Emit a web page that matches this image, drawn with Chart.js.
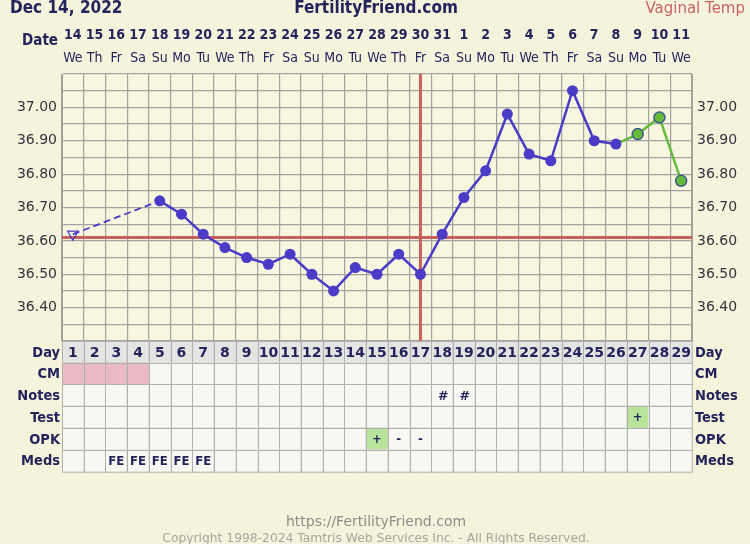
<!DOCTYPE html>
<html>
<head>
<meta charset="utf-8">
<script src="https://cdn.jsdelivr.net/npm/chart.js@4.4.0/dist/chart.umd.min.js"></script>
<style>
  html, body { margin: 0; padding: 0; background: #f6f3dc; }
  #chart { display: block; }
</style>
</head>
<body>
<canvas id="chart" width="750" height="544"></canvas>
<script>
// cycle days and the calendar dates above them
const days = ['1','2','3','4','5','6','7','8','9','10','11','12','13','14','15','16','17','18','19','20','21','22','23','24','25','26','27','28','29'];
const dates = ['14','15','16','17','18','19','20','21','22','23','24','25','26','27','28','29','30','31','1','2','3','4','5','6','7','8','9','10','11'];
const weekdays = ['We','Th','Fr','Sa','Su','Mo','Tu','We','Th','Fr','Sa','Su','Mo','Tu','We','Th','Fr','Sa','Su','Mo','Tu','We','Th','Fr','Sa','Su','Mo','Tu','We'];

// temperatures (null = no reading)
const temps = [36.62, null, null, null, 36.72, 36.68, 36.62, 36.58, 36.55, 36.53, 36.56, 36.50, 36.45, 36.52, 36.50, 36.56, 36.50, 36.62, 36.73, 36.81, 36.98, 36.86, 36.84, 37.05, 36.90, 36.89, 36.92, 36.97, 36.78];
const yTickLabels = ['36.40','36.50','36.60','36.70','36.80','36.90','37.00'];
const coverline = 36.61;
const ovulationDay = '17';
const greenFrom = 26; // index of first green reading

// table rows below the chart
const rowNames = ['Day','CM','Notes','Test','OPK','Meds'];
const cmDays = ['1','2','3','4'];
const notesRow = {'18':'#','19':'#'};
const testRow = {'27':'+'};
const opkRow = {'15':'+','16':'-','17':'-'};
const medsRow = {'3':'FE','4':'FE','5':'FE','6':'FE','7':'FE'};

const NAVY = '#24245c';
const BLUE = '#4a3cc6';
const GREEN = '#66bb3c';
const RED = '#c9615b';
const GRID = '#a2a2a2';
const COND = "'DejaVu Sans Condensed', 'Liberation Sans Narrow', 'DejaVu Sans', sans-serif";

const chartDecor = {
  id: 'chartDecor',
  beforeDraw(chart) {
    const c = chart.ctx, a = chart.chartArea;
    c.save();
    c.fillStyle = '#f6f3dc';
    c.fillRect(0, 0, chart.width, chart.height);
    c.fillStyle = '#f9f6df';
    c.fillRect(a.left, a.top, a.right - a.left, a.bottom - a.top);
    c.restore();
  },
  beforeDatasetsDraw(chart) {
    const c = chart.ctx, a = chart.chartArea;
    const x = chart.scales.x, y = chart.scales.y;
    c.save();
    c.strokeStyle = RED;
    c.lineWidth = 3;
    const cy = y.getPixelForValue(coverline);
    c.beginPath(); c.moveTo(a.left, cy); c.lineTo(a.right, cy); c.stroke();
    const ox = x.getPixelForValue(days.indexOf(ovulationDay));
    c.beginPath(); c.moveTo(ox, a.top); c.lineTo(ox, a.bottom); c.stroke();
    c.restore();
  },
  afterDraw(chart) {
    const c = chart.ctx, a = chart.chartArea;
    const x = chart.scales.x;
    const cw = (a.right - a.left) / days.length;
    c.save();

    // header
    c.textBaseline = 'middle';
    c.fillStyle = NAVY;
    c.font = 'bold 17px ' + COND;
    c.textAlign = 'left';
    c.fillText('Dec 14, 2022', 10, 9);
    c.textAlign = 'center';
    c.fillText('FertilityFriend.com', 376, 9);
    c.font = "15px 'DejaVu Sans', sans-serif";
    c.fillStyle = '#c86464';
    c.textAlign = 'right';
    c.fillText('Vaginal Temp', 745, 9);

    // date rows
    c.fillStyle = NAVY;
    c.font = 'bold 15px ' + COND;
    c.textAlign = 'right';
    c.fillText('Date', 58, 41);
    days.forEach((d, i) => {
      const px = x.getPixelForValue(i);
      c.textAlign = 'center';
      c.font = 'bold 14px ' + COND;
      c.fillText(dates[i], px, 35);
      c.font = '14px ' + COND;
      c.fillText(weekdays[i], px, 58);
    });

    // table
    rowNames.forEach((name, r) => {
      const y0 = a.bottom + r * cw;
      days.forEach((d, i) => {
        const x0 = x.getPixelForValue(i) - cw / 2;
        let bg = '#f8f8f2';
        let txt = '';
        if (r === 0) { bg = '#e4e4e2'; txt = d; }
        if (r === 1 && cmDays.includes(d)) bg = '#ebb9c6';
        if (r === 2) txt = notesRow[d] || '';
        if (r === 3) { txt = testRow[d] || ''; if (txt === '+') bg = '#b8e39a'; }
        if (r === 4) { txt = opkRow[d] || ''; if (txt === '+') bg = '#b8e39a'; }
        if (r === 5) txt = medsRow[d] || '';
        c.fillStyle = bg;
        c.fillRect(x0, y0, cw, cw);
        c.strokeStyle = '#b0b0b0';
        c.lineWidth = 1;
        c.strokeRect(Math.round(x0) + 0.5, Math.round(y0) + 0.5, cw, cw);
        if (txt) {
          c.fillStyle = NAVY;
          c.textAlign = 'center';
          if (r === 0) c.font = "bold 14px 'DejaVu Sans', sans-serif";
          else if (r === 2) c.font = "bold italic 13px 'DejaVu Sans', sans-serif";
          else c.font = 'bold 13px ' + COND;
          c.fillText(txt, x0 + cw / 2, y0 + cw / 2 + 1);
        }
      });
      c.fillStyle = NAVY;
      c.font = 'bold 14.5px ' + COND;
      c.textAlign = 'right';
      c.fillText(name, 60, a.bottom + r * cw + cw / 2 + 1);
      c.textAlign = 'left';
      c.fillText(name, 695, a.bottom + r * cw + cw / 2 + 1);
    });

    // footer
    c.textAlign = 'center';
    c.fillStyle = '#8c8c8c';
    c.font = "14px 'DejaVu Sans', sans-serif";
    c.fillText('https://FertilityFriend.com', 376, 522);
    c.fillStyle = '#a6a69e';
    c.font = "12.3px 'DejaVu Sans', sans-serif";
    c.fillText('Copyright 1998-2024 Tamtris Web Services Inc. - All Rights Reserved.', 376, 539);
    c.restore();
  }
};

function yTicks(scale) {
  const ticks = [];
  for (let v = 36.30; v <= 37.101; v += 0.05) ticks.push({ value: Math.round(v * 100) / 100 });
  scale.ticks = ticks;
}
function yLabel(v) {
  const s = v.toFixed(2);
  return yTickLabels.includes(s) ? s : '';
}
const gap = c => temps[c.p0DataIndex] === null || temps[c.p1DataIndex] === null;

const ctx = document.getElementById('chart');
new Chart(ctx, {
  type: 'line',
  data: {
    labels: days,
    datasets: [{
      data: temps,
      spanGaps: true,
      borderColor: BLUE,
      borderWidth: 2.5,
      segment: {
        borderColor: c => c.p0DataIndex >= greenFrom - 1 ? GREEN : undefined,
        borderDash: c => gap(c) ? [7, 4] : undefined,
        borderWidth: c => gap(c) ? 1.8 : undefined
      },
      pointStyle: c => c.dataIndex === 0 ? 'triangle' : 'circle',
      rotation: c => c.dataIndex === 0 ? 180 : 0,
      pointRadius: c => c.dataIndex === 0 ? 6 : 5.5,
      pointBackgroundColor: c => c.dataIndex === 0 ? 'rgba(0,0,0,0)' : (c.dataIndex >= greenFrom ? GREEN : BLUE),
      pointBorderColor: c => c.dataIndex >= greenFrom ? '#3d5a8c' : BLUE,
      pointBorderWidth: c => c.dataIndex === 0 ? 1.3 : (c.dataIndex >= greenFrom ? 1.5 : 0)
    }]
  },
  options: {
    responsive: false,
    animation: false,
    devicePixelRatio: 1,
    layout: { padding: { top: 74, bottom: 203, left: 0, right: 0 } },
    plugins: { legend: { display: false }, tooltip: { enabled: false } },
    scales: {
      x: {
        type: 'category',
        offset: true,
        grid: { offset: true, color: GRID, lineWidth: 1.2, drawTicks: false },
        border: { display: false },
        ticks: { display: false, autoSkip: false },
        afterFit(scale) { scale.height = 0; }
      },
      y: {
        position: 'left',
        min: 36.30,
        max: 37.10,
        afterBuildTicks: yTicks,
        grid: { color: GRID, lineWidth: 1.2, drawTicks: false },
        border: { color: GRID },
        ticks: { autoSkip: false, callback: yLabel, padding: 5, color: '#333340', font: { family: 'DejaVu Sans', size: 14 } },
        afterFit(scale) { scale.width = 62; }
      },
      y2: {
        position: 'right',
        min: 36.30,
        max: 37.10,
        afterBuildTicks: yTicks,
        grid: { drawOnChartArea: false, drawTicks: false },
        border: { color: GRID },
        ticks: { autoSkip: false, callback: yLabel, padding: 5, color: '#333340', font: { family: 'DejaVu Sans', size: 14 } },
        afterFit(scale) { scale.width = 58; }
      }
    }
  },
  plugins: [chartDecor]
});
</script>
</body>
</html>
